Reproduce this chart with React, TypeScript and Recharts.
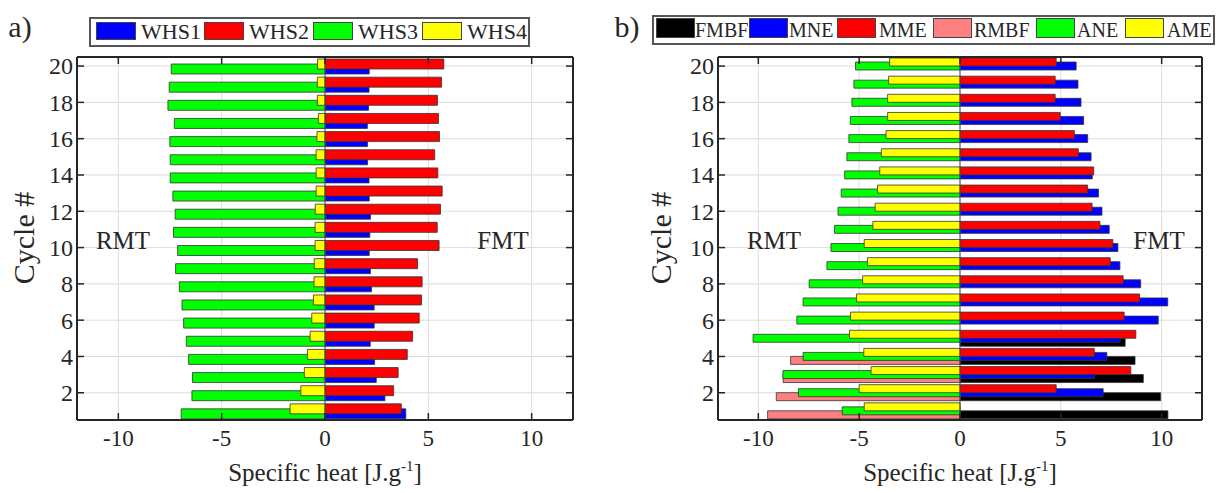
import React from 'react';
import { BarChart, Bar, XAxis, YAxis, CartesianGrid, ReferenceLine } from 'recharts';

// ---------- data ----------
const cycles = [1, 2, 3, 4, 5, 6, 7, 8, 9, 10, 11, 12, 13, 14, 15, 16, 17, 18, 19, 20];
const cycleTicks = [2, 4, 6, 8, 10, 12, 14, 16, 18, 20];
const heatTicks = [-10, -5, 0, 5, 10];

// panel a (cycle 1 -> 20)
const whs1 = [3.91, 2.9, 2.48, 2.4, 2.19, 2.38, 2.38, 2.25, 2.2, 2.14, 2.17, 2.2, 2.14, 2.13, 2.06, 2.06, 2.05, 2.11, 2.13, 2.14];
const whs2 = [3.69, 3.32, 3.54, 3.98, 4.24, 4.56, 4.67, 4.7, 4.48, 5.52, 5.43, 5.59, 5.67, 5.46, 5.31, 5.54, 5.49, 5.44, 5.64, 5.75];
const whs3 = [-6.96, -6.44, -6.41, -6.6, -6.71, -6.84, -6.92, -7.05, -7.23, -7.13, -7.33, -7.25, -7.36, -7.49, -7.49, -7.51, -7.29, -7.6, -7.54, -7.44];
const whs4 = [-1.69, -1.17, -1.0, -0.85, -0.72, -0.64, -0.56, -0.53, -0.52, -0.48, -0.48, -0.47, -0.43, -0.43, -0.43, -0.39, -0.32, -0.37, -0.37, -0.36];

// panel b (cycle 1 -> 20)
const fmbf = [10.31, 9.95, 9.09, 8.68, 8.19, null, null, null, null, null, null, null, null, null, null, null, null, null, null, null];
const mne = [null, 7.1, 6.66, 7.28, 7.94, 9.83, 10.3, 8.96, 7.93, 7.83, 7.4, 7.04, 6.87, 6.56, 6.5, 6.33, 6.13, 6.0, 5.85, 5.76];
const mme = [null, 4.77, 8.47, 6.66, 8.72, 8.14, 8.9, 8.09, 7.45, 7.58, 6.94, 6.55, 6.33, 6.63, 5.87, 5.67, 4.97, 4.72, 4.72, 4.77];
const rmbf = [-9.54, -9.11, -8.77, -8.4, null, null, null, null, null, null, null, null, null, null, null, null, null, null, null, null];
const ane = [-5.84, -8.01, -8.78, -7.78, -10.26, -8.09, -7.78, -7.48, -6.6, -6.4, -6.22, -6.05, -5.89, -5.72, -5.61, -5.51, -5.44, -5.36, -5.26, -5.18];
const ame = [-4.75, -5.0, -4.41, -4.77, -5.48, -5.43, -5.13, -4.83, -4.59, -4.75, -4.32, -4.21, -4.09, -3.98, -3.9, -3.67, -3.59, -3.59, -3.54, -3.49];

const dataA = cycles.map((c, i) => ({ cycle: c, whs1: whs1[i], whs2: whs2[i], whs3: whs3[i], whs4: whs4[i] }));
const dataB = cycles.map((c, i) => ({ cycle: c, fmbf: fmbf[i], mne: mne[i], mme: mme[i], rmbf: rmbf[i], ane: ane[i], ame: ame[i] }));

// ---------- styles ----------
const FONT = '"Liberation Serif", "Times New Roman", serif';
const INK = '#262626';
const EDGE = '#333333';
const BLUE = '#0000ff';
const RED = '#ff0000';
const GREEN = '#00ff00';
const YELLOW = '#ffff00';
const PINK = '#ff8080';
const BLACK = '#000000';
const AXIS = { stroke: INK, strokeWidth: 2 };
const heatDomain: [number, number] = [-12, 12];
const cycleDomain: [number, number] = [0.5, 20.5];

// stable spacer keys (occupy a slot in the group, draw nothing)
const spacerA1 = () => 0;
const spacerA2 = () => 0;
const spacerB1 = () => 0;
const spacerB2 = () => 0;
const spacerB3 = () => 0;
const spacerB4 = () => 0;
const spacerB5 = () => 0;
const spacerB6 = () => 0;

// ---------- ticks ----------
const LeftTick = (props: any) => {
  const { x, y, payload } = props;
  return (
    <g>
      <line x1={x} y1={y} x2={x + 7} y2={y} stroke={INK} strokeWidth={1.5} />
      <text x={x - 4} y={y} dy="0.35em" textAnchor="end" fontSize={24} fontFamily={FONT} fill={INK}>
        {payload.value}
      </text>
    </g>
  );
};
const RightTick = (props: any) => {
  const { x, y } = props;
  return <line x1={x} y1={y} x2={x - 7} y2={y} stroke={INK} strokeWidth={1.5} />;
};
const BottomTick = (props: any) => {
  const { x, y, payload } = props;
  return (
    <g>
      <line x1={x} y1={y} x2={x} y2={y - 7} stroke={INK} strokeWidth={1.5} />
      <text x={x} y={y + 18} dy="0.35em" textAnchor="middle" fontSize={23} fontFamily={FONT} fill={INK}>
        {payload.value}
      </text>
    </g>
  );
};
const TopTick = (props: any) => {
  const { x, y } = props;
  return <line x1={x} y1={y} x2={x} y2={y + 7} stroke={INK} strokeWidth={1.5} />;
};

// ---------- helpers ----------
const Txt = ({ x, y, size, children, rotate }: any) => (
  <div
    style={{
      position: 'absolute',
      left: x,
      top: y,
      transform: `translate(-50%, -50%)${rotate ? ' rotate(-90deg)' : ''}`,
      fontSize: size,
      fontFamily: FONT,
      color: INK,
      whiteSpace: 'nowrap',
      lineHeight: 1,
    }}
  >
    {children}
  </div>
);

const XLabel = ({ x }: { x: number }) => (
  <Txt x={x} y={472} size={25}>
    Specific heat [J.g<span style={{ fontSize: 15, position: 'relative', top: -10 }}>-1</span>]
  </Txt>
);

const Swatch = ({ left, top, w, h, color }: any) => (
  <div
    style={{
      position: 'absolute',
      left,
      top,
      width: w,
      height: h,
      background: color,
      boxSizing: 'border-box',
      border: '1px solid #444',
    }}
  />
);

const LegendText = ({ left, y, size, children }: any) => (
  <div
    style={{
      position: 'absolute',
      left,
      top: y,
      transform: 'translateY(-50%)',
      fontSize: size,
      fontFamily: FONT,
      color: INK,
      lineHeight: 1,
      whiteSpace: 'nowrap',
    }}
  >
    {children}
  </div>
);

const legendA = [
  { name: 'WHS1', color: BLUE, sw: 96, tx: 141 },
  { name: 'WHS2', color: RED, sw: 204, tx: 249 },
  { name: 'WHS3', color: GREEN, sw: 313, tx: 358 },
  { name: 'WHS4', color: YELLOW, sw: 422, tx: 467 },
];
const legendB = [
  { name: 'FMBF', color: BLACK, sw: 656, tx: 695 },
  { name: 'MNE', color: BLUE, sw: 749, tx: 789 },
  { name: 'MME', color: RED, sw: 837, tx: 879 },
  { name: 'RMBF', color: PINK, sw: 933, tx: 974 },
  { name: 'ANE', color: GREEN, sw: 1036, tx: 1077 },
  { name: 'AME', color: YELLOW, sw: 1125, tx: 1167 },
];

const commonAxes = (leftWidth: number) => [
  <XAxis
    key="xb"
    type="number"
    domain={heatDomain}
    ticks={heatTicks}
    allowDataOverflow
    interval={0}
    height={73}
    tickSize={0}
    tickMargin={0}
    tickLine={false}
    axisLine={AXIS}
    tick={<BottomTick />}
  />,
  <XAxis
    key="xt"
    xAxisId="top"
    orientation="top"
    type="number"
    domain={heatDomain}
    ticks={heatTicks}
    allowDataOverflow
    interval={0}
    height={2}
    tickSize={0}
    tickMargin={0}
    tickLine={false}
    axisLine={AXIS}
    tick={<TopTick />}
  />,
  <YAxis
    key="yl"
    yAxisId="main"
    type="number"
    dataKey="cycle"
    domain={cycleDomain}
    ticks={cycleTicks}
    allowDataOverflow
    reversed
    interval={0}
    width={leftWidth}
    tickSize={0}
    tickMargin={0}
    tickLine={false}
    axisLine={AXIS}
    tick={<LeftTick />}
  />,
  <YAxis
    key="yr"
    yAxisId="right"
    orientation="right"
    type="number"
    dataKey="cycle"
    domain={cycleDomain}
    ticks={cycleTicks}
    allowDataOverflow
    reversed
    interval={0}
    width={2}
    tickSize={0}
    tickMargin={0}
    tickLine={false}
    axisLine={AXIS}
    tick={<RightTick />}
  />,
];

const layerAxis = (id: string) => (
  <YAxis key={id} yAxisId={id} hide width={0} reversed type="number" dataKey="cycle" domain={cycleDomain} allowDataOverflow />
);

const barStyle = { stroke: EDGE, strokeWidth: 0.8, isAnimationActive: false };

export default function App() {
  return (
    <div style={{ position: 'absolute', left: 0, top: 0, width: 1225, height: 493, background: '#fff', overflow: 'hidden' }}>
      {/* Panel a */}
      <div style={{ position: 'absolute', left: 0, top: 0 }}>
        <BarChart
          width={600}
          height={493}
          data={dataA}
          layout="vertical"
          stackOffset="sign"
          barSize={10}
          barGap={-5}
          margin={{ top: 55, right: 25, bottom: 0, left: 0 }}
        >
          <CartesianGrid yAxisId="main" stroke="#dcdcdc" strokeWidth={1} />
          {commonAxes(77)}
          {layerAxis('lowerA')}
          {layerAxis('upperA')}
          <Bar yAxisId="lowerA" stackId="lowerSpacerA" dataKey={spacerA1} fill="none" stroke="none" legendType="none" isAnimationActive={false} />
          <Bar yAxisId="lowerA" stackId="lowerA" dataKey="whs1" name="WHS1" fill={BLUE} {...barStyle} />
          <Bar yAxisId="lowerA" stackId="lowerA" dataKey="whs3" name="WHS3" fill={GREEN} {...barStyle} />
          <Bar yAxisId="upperA" stackId="upperA" dataKey="whs2" name="WHS2" fill={RED} {...barStyle} />
          <Bar yAxisId="upperA" stackId="upperA" dataKey="whs4" name="WHS4" fill={YELLOW} {...barStyle} />
          <Bar yAxisId="upperA" stackId="upperSpacerA" dataKey={spacerA2} fill="none" stroke="none" legendType="none" isAnimationActive={false} />
          <ReferenceLine x={0} yAxisId="main" stroke="#4d4d4d" strokeWidth={1} />
        </BarChart>
      </div>

      {/* Panel b */}
      <div style={{ position: 'absolute', left: 640, top: 0 }}>
        <BarChart
          width={585}
          height={493}
          data={dataB}
          layout="vertical"
          stackOffset="sign"
          barSize={8}
          barGap={-4}
          margin={{ top: 55, right: 21, bottom: 0, left: 0 }}
        >
          <CartesianGrid yAxisId="main" stroke="#dcdcdc" strokeWidth={1} />
          {commonAxes(78)}
          {layerAxis('bottomB')}
          {layerAxis('middleB')}
          {layerAxis('topB')}
          <Bar yAxisId="bottomB" stackId="bSp1" dataKey={spacerB1} fill="none" stroke="none" legendType="none" isAnimationActive={false} />
          <Bar yAxisId="bottomB" stackId="bSp2" dataKey={spacerB2} fill="none" stroke="none" legendType="none" isAnimationActive={false} />
          <Bar yAxisId="bottomB" stackId="bottomB" dataKey="fmbf" name="FMBF" fill={BLACK} {...barStyle} />
          <Bar yAxisId="bottomB" stackId="bottomB" dataKey="rmbf" name="RMBF" fill={PINK} {...barStyle} />
          <Bar yAxisId="middleB" stackId="mSp1" dataKey={spacerB3} fill="none" stroke="none" legendType="none" isAnimationActive={false} />
          <Bar yAxisId="middleB" stackId="middleB" dataKey="mne" name="MNE" fill={BLUE} {...barStyle} />
          <Bar yAxisId="middleB" stackId="middleB" dataKey="ane" name="ANE" fill={GREEN} {...barStyle} />
          <Bar yAxisId="middleB" stackId="mSp2" dataKey={spacerB4} fill="none" stroke="none" legendType="none" isAnimationActive={false} />
          <Bar yAxisId="topB" stackId="topB" dataKey="mme" name="MME" fill={RED} {...barStyle} />
          <Bar yAxisId="topB" stackId="topB" dataKey="ame" name="AME" fill={YELLOW} {...barStyle} />
          <Bar yAxisId="topB" stackId="tSp1" dataKey={spacerB5} fill="none" stroke="none" legendType="none" isAnimationActive={false} />
          <Bar yAxisId="topB" stackId="tSp2" dataKey={spacerB6} fill="none" stroke="none" legendType="none" isAnimationActive={false} />
          <ReferenceLine x={0} yAxisId="main" stroke="#4d4d4d" strokeWidth={1} />
        </BarChart>
      </div>

      {/* panel tags */}
      <Txt x={20} y={27} size={30}>a)</Txt>
      <Txt x={627} y={27} size={30}>b)</Txt>

      {/* legend a */}
      <div style={{ position: 'absolute', left: 89, top: 17, width: 441, height: 30, boxSizing: 'border-box', border: '2px solid #555' }} />
      {legendA.map((e) => (
        <React.Fragment key={e.name}>
          <Swatch left={e.sw} top={22} w={40} h={18} color={e.color} />
          <LegendText left={e.tx} y={32} size={22}>{e.name}</LegendText>
        </React.Fragment>
      ))}

      {/* legend b */}
      <div style={{ position: 'absolute', left: 652, top: 15, width: 563, height: 30, boxSizing: 'border-box', border: '2px solid #555' }} />
      {legendB.map((e) => (
        <React.Fragment key={e.name}>
          <Swatch left={e.sw} top={18} w={39} h={20} color={e.color} />
          <LegendText left={e.tx} y={30} size={20}>{e.name}</LegendText>
        </React.Fragment>
      ))}

      {/* annotations */}
      <Txt x={123} y={240} size={25}>RMT</Txt>
      <Txt x={503} y={240} size={25}>FMT</Txt>
      <Txt x={774} y={240} size={25}>RMT</Txt>
      <Txt x={1159} y={240} size={25}>FMT</Txt>

      {/* axis titles */}
      <Txt x={24} y={238} size={30} rotate>Cycle #</Txt>
      <Txt x={661} y={238} size={30} rotate>Cycle #</Txt>
      <XLabel x={325} />
      <XLabel x={960} />
    </div>
  );
}
